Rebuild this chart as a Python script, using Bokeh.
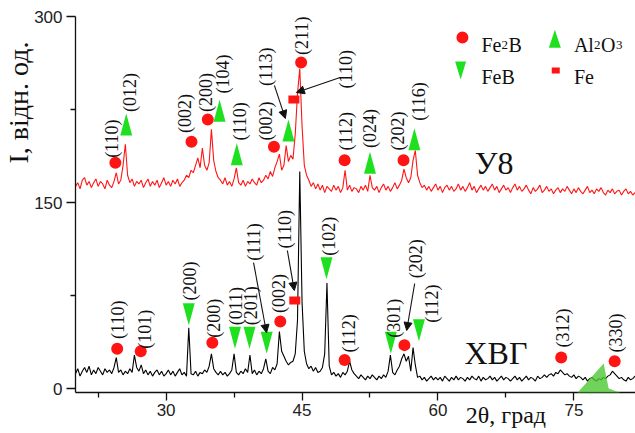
import numpy as np
from bokeh.plotting import figure
from bokeh.models import (FixedTicker, Label, Arrow, NormalHead, PolyAnnotation,
                          ColumnDataSource, LinearAxis)
from bokeh.core.properties import value
from bokeh.embed import file_html
from bokeh.resources import INLINE

# ---------------- data ----------------
TWO_THETA_START = 20.0
TWO_THETA_STEP = 0.25

# sample У8 (offset pattern), one row per degree, 4 samples per degree
u8_counts = [
    163, 166, 161, 168,  170, 164, 167, 162,  166, 169, 163, 167,  165, 161, 168, 164,  # 20-23
    162, 167, 174, 165,  168, 180, 197, 172,  166, 169, 163, 167,  165, 168, 162, 166,  # 24-27
    169, 163, 167, 164,  168, 162, 166, 170,  164, 167, 163, 168,  165, 169, 163, 166,  # 28-31
    168, 172, 170, 176,  174, 180, 186, 178,  194, 180, 176, 182,  209, 184, 175, 170,  # 32-35
    168, 165, 170, 164,  167, 163, 169, 178,  166, 164, 168, 163,  167, 165, 169, 166,  # 36-39
    164, 170, 166, 168,  172, 169, 175, 171,  178, 183, 189, 176,  180, 196, 183, 188,  # 40-43
    185, 205, 238, 258,  212, 180, 172, 168,  163, 166, 161, 165,  160, 164, 158, 163,  # 44-47
    161, 159, 164, 160,  163, 158, 162, 176,  160, 164, 159, 162,  161, 158, 163, 160,  # 48-51
    164, 159, 172, 162,  160, 163, 158, 162,  165, 160, 163, 159,  162, 166, 161, 164,  # 52-55
    168, 177, 170, 166,  170, 184, 192, 172,  166, 162, 164, 160,  163, 159, 162, 165,  # 56-59
    160, 163, 158, 162,  164, 160, 163, 159,  161, 165, 160, 163,  159, 162, 166, 160,  # 60-63
    163, 158, 161, 164,  160, 163, 159, 162,  165, 160, 163, 158,  161, 164, 160, 162,  # 64-67
    158, 162, 165, 160,  163, 159, 161, 164,  160, 157, 162, 159,  161, 164, 158, 160,  # 68-71
    163, 159, 161, 157,  160, 162, 158, 161,  159, 163, 160, 157,  161, 158, 162, 159,  # 72-75
    157, 160, 163, 158,  160, 157, 161, 159,  162, 158, 156, 160,  158, 161, 157, 159,  # 76-79
    160, 156, 159, 161,  157, 159, 156, 158,  158,                                      # 80-82
]

# sample ХВГ
khvg_counts = [
    12, 16, 10, 14,  17, 13, 18, 11,  15, 12, 17, 14,  11, 16, 13, 15,  # 20-23
    12, 17, 25, 13,  15, 11, 14, 12,  16, 13, 27, 17,  14, 19, 12, 15,  # 24-27
    11, 14, 10, 13,  15, 11, 14, 10,  12, 15, 11, 14,  10, 13, 16, 11,  # 28-31
    13, 10, 49, 12,  11, 14, 10, 13,  12, 15, 13, 18,  28, 16, 13, 11,  # 32-35
    14, 11, 13, 10,  12, 15, 28, 13,  11, 14, 12, 16,  13, 27, 12, 15,  # 36-39
    11, 14, 12, 16,  24, 14, 12, 17,  15, 20, 46, 30,  26, 22, 19, 21,  # 40-43
    22, 28, 55, 175, 70, 30, 20, 16,  18, 14, 17, 13,  14, 17, 28, 85,  # 44-47
    18, 11, 13, 10,  12, 9, 13, 11,   14, 22, 15, 12,  10, 8, 11, 9,    # 48-51
    7, 10, 8, 11,    9, 7, 10, 8,     11, 9, 14, 27,   13, 11, 15, 18,  # 52-55
    24, 28, 22, 26,  14, 33, 19, 9,   10, 7, 9, 6,     8, 10, 7, 9,     # 56-59
    7, 9, 6, 10,     8, 6, 9, 7,      10, 7, 9, 8,     6, 9, 7, 10,     # 60-63
    8, 7, 10, 6,     9, 7, 8, 10,     7, 9, 6, 8,      10, 7, 9, 8,     # 64-67
    6, 8, 10, 7,     9, 6, 8, 10,     7, 9, 8, 6,      10, 8, 9, 11,    # 68-71
    9, 11, 12, 10,   13, 12, 15, 13,  11, 12, 10, 9,   11, 8, 10, 9,    # 72-75
    7, 9, 6, 8,      9, 7, 6, 8,      7, 9, 8, 10,     11, 14, 12, 10,  # 76-79
    8, 9, 7, 6,      9, 7, 8, 10,     8,                                # 80-82
]

# phase markers: (2theta, marker height)
u8_fe2b_x = [24.4, 32.8, 34.6, 41.9, 44.9, 49.7, 56.2]
u8_fe2b_y = [182, 199, 217, 195, 263, 184, 184]
u8_al2o3_x = [25.6, 35.9, 37.8, 43.5, 52.5, 57.4]
u8_al2o3_y = [213, 224, 189, 208, 182, 201]
u8_fe_x = [44.1]
u8_fe_y = [233]

khvg_fe2b_x = [24.6, 27.2, 35.1, 42.6, 49.7, 56.3, 73.6, 79.5]
khvg_fe2b_y = [32, 30, 37, 54, 23, 35, 25, 22]
khvg_feb_x = [32.5, 37.6, 39.2, 41.1, 47.7, 54.8, 57.9]
khvg_feb_y = [60, 41, 41, 37, 97, 37, 47]
khvg_fe_x = [44.2]
khvg_fe_y = [71]

# Miller index labels
u8_hkl = ["(110)", "(012)", "(002)", "(200)", "(104)", "(110)", "(002)",
          "(113)", "(211)", "(110)", "(112)", "(024)", "(202)", "(116)"]
khvg_hkl = ["(110)", "(101)", "(200)", "(200)", "(011)", "(201)", "(111)", "(002)",
            "(110)", "(102)", "(112)", "(301)", "(202)", "(112)", "(312)", "(330)"]

x_ticks = [30, 45, 60, 75]
y_ticks = [0, 150, 300]
x_title = "2θ, град"
y_title = "I, відн. од."

# ---------------- layout ----------------
u8_lab_x = [24.06, 26.04, 32.07, 34.38, 36.25, 38.11, 40.97, 40.97, 45.03, 49.86, 49.86, 52.49, 55.57, 57.87]
u8_lab_y = [186, 223, 206, 223, 238, 200, 200, 244, 269, 242, 192, 194, 192, 216]
khvg_lab_x = [24.72, 27.68, 32.62, 35.26, 37.67, 39.32, 39.65, 42.5, 43.16, 47.99, 50.19, 55.13, 57.54, 59.30, 73.79, 79.6]
khvg_lab_y = [40, 32, 71, 41, 51, 51, 103, 61, 113, 107, 29, 41, 89, 53, 33, 29]

RED = "#ff1414"
GREEN = "#1fe01f"
SERIF = "Liberation Serif"
SANS = "Liberation Sans"

X0, X1 = 20.0, 81.8
Y0, Y1 = -3.2, 300.0
W, H = 635, 433
BL, BR, BT, BB = 72, 0, 16, 41
px_x = (W - BL - BR) / (X1 - X0)
px_y = (H - BT - BB) / (Y1 - Y0)

two_theta = TWO_THETA_START + TWO_THETA_STEP * np.arange(len(u8_counts))

p = figure(width=W, height=H, x_range=(X0, X1), y_range=(Y0, Y1),
           output_backend="svg", toolbar_location=None,
           min_border_left=BL, min_border_right=BR, min_border_top=BT, min_border_bottom=BB)
p.outline_line_color = None
p.grid.visible = False
p.background_fill_color = "white"

p.xaxis.ticker = FixedTicker(ticks=x_ticks, minor_ticks=[22.5, 37.5, 52.5, 67.5, 82.5])
p.yaxis.ticker = FixedTicker(ticks=y_ticks, minor_ticks=[75, 225])
for ax in (p.xaxis, p.yaxis):
    ax.axis_line_width = 1.3
    ax.axis_line_color = "#111"
    ax.major_tick_line_color = "#111"
    ax.minor_tick_line_color = "#111"
    ax.major_tick_line_width = 1.3
    ax.minor_tick_line_width = 1.3
    ax.major_tick_in = 0
    ax.minor_tick_in = 0
    ax.major_tick_out = 8
    ax.minor_tick_out = 5
    ax.major_label_text_font = SANS
    ax.major_label_text_font_size = "17px"
    ax.major_label_text_color = "#222"
    ax.major_label_standoff = 3
p.yaxis.major_tick_out = 9
p.yaxis.major_label_standoff = 4


def title_axis(loc, tick, text, size, standoff, vertical):
    ax = LinearAxis(ticker=FixedTicker(ticks=[tick], minor_ticks=[]),
                    major_label_overrides={tick: text},
                    axis_line_color=None, major_tick_line_color=None,
                    minor_tick_line_color=None, major_tick_out=0, major_tick_in=0,
                    minor_tick_out=0, minor_tick_in=0,
                    major_label_standoff=standoff,
                    major_label_text_font=SERIF, major_label_text_font_size=size,
                    major_label_text_color="#111")
    if vertical:
        ax.major_label_orientation = "vertical"
    p.add_layout(ax, loc)


title_axis("below", 67.5, x_title, "24px", -17, False)
title_axis("left", 230.6, y_title, "28px", -3, True)

# spectra
p.line(two_theta, khvg_counts, line_color="#000000", line_width=1.1)
p.line(two_theta, u8_counts, line_color=RED, line_width=1.1)

TRI_W = 12 / px_x
TRI_H = 22 / px_y


def tri_patches(xs, ys, up, w=TRI_W, h=TRI_H):
    px, py = [], []
    for x, y in zip(xs, ys):
        px.append([x - w / 2, x + w / 2, x])
        if up:
            py.append([y - h / 2, y - h / 2, y + h / 2])
        else:
            py.append([y + h / 2, y + h / 2, y - h / 2])
    return px, py


# markers
for xs, ys in ((u8_fe2b_x, u8_fe2b_y), (khvg_fe2b_x, khvg_fe2b_y)):
    p.scatter(xs, ys, marker="circle", size=12, fill_color=RED, line_color=None)
for xs, ys in ((u8_fe_x, u8_fe_y), (khvg_fe_x, khvg_fe_y)):
    p.rect(xs, ys, width=11, height=8, width_units="screen", height_units="screen",
           fill_color=RED, line_color=None)
tx, ty = tri_patches(u8_al2o3_x, u8_al2o3_y, True)
p.patches(tx, ty, fill_color=GREEN, line_color=None)
tx, ty = tri_patches(khvg_feb_x, khvg_feb_y, False)
p.patches(tx, ty, fill_color=GREEN, line_color=None)

# hkl labels
for lx, ly, txt in ((u8_lab_x, u8_lab_y, u8_hkl), (khvg_lab_x, khvg_lab_y, khvg_hkl)):
    src = ColumnDataSource(dict(x=lx, y=ly, t=txt))
    p.text(x="x", y="y", text="t", source=src, angle=np.pi / 2, text_align="left",
           text_baseline="middle", text_font=value(SERIF), text_font_size="18px",
           text_color="#111")

# arrows
arrows = [
    (39.65, 101.6, 41.08, 45.0),
    (43.38, 111.3, 44.15, 79.0),
    (57.43, 84.7, 56.55, 46.8),
    (41.95, 244.4, 43.16, 217.7),
    (49.2, 250.8, 44.37, 238.7),
]
for xs_, ys_, xe_, ye_ in arrows:
    p.add_layout(Arrow(x_start=xs_, y_start=ys_, x_end=xe_, y_end=ye_, line_width=1.1,
                       line_color="#111",
                       end=NormalHead(size=8, fill_color="#111", line_color="#111")))

# sample names
p.add_layout(Label(x=66.2, y=181.5, text="У8", text_font=SERIF, text_font_size="32px",
                   text_align="center", text_baseline="alphabetic", text_color="#111"))
p.add_layout(Label(x=66.4, y=28.5, text="ХВГ", text_font=SERIF, text_font_size="32px",
                   text_align="center", text_baseline="alphabetic", text_color="#111"))

# legend
p.scatter([62.7], [283], marker="circle", size=12, fill_color=RED, line_color=None)
lx, ly = tri_patches([72.9], [282], True, w=12 / px_x, h=18 / px_y)
p.patches(lx, ly, fill_color=GREEN, line_color=None)
lx, ly = tri_patches([62.5], [256.5], False, w=11 / px_x, h=18 / px_y)
p.patches(lx, ly, fill_color=GREEN, line_color=None)
p.rect([73.0], [256.5], width=8, height=6, width_units="screen", height_units="screen",
       fill_color=RED, line_color=None)


def leg(x, y, parts):
    off = 0
    for txt, size, w in parts:
        p.add_layout(Label(x=x, y=y, x_offset=off, text=txt, text_font=SERIF,
                           text_font_size=size, text_baseline="alphabetic",
                           text_align="left", text_color="#111"))
        off += w


leg(64.8, 277.4, [("Fe", "20px", 20), ("2", "13px", 7), ("B", "20px", 14)])
leg(64.8, 251, [("FeB", "20px", 0)])
leg(75.0, 277.4, [("Al", "20px", 20), ("2", "13px", 7), ("O", "20px", 15), ("3", "13px", 7)])
leg(75.0, 251, [("Fe", "20px", 0)])

# green watermark at lower right (only the part inside the frame is drawn)
wm_px = [(540, 433), (603, 363), (608, 388), (635, 398), (635, 422), (600, 407), (565, 433)]
p.add_layout(PolyAnnotation(xs=[X0 + (a - BL) / px_x for a, b in wm_px],
                            ys=[Y1 - (b - BT) / px_y for a, b in wm_px],
                            fill_color="#4cc832", fill_alpha=0.8, line_color=None))

open("out.html", "w").write(file_html(p, INLINE))
